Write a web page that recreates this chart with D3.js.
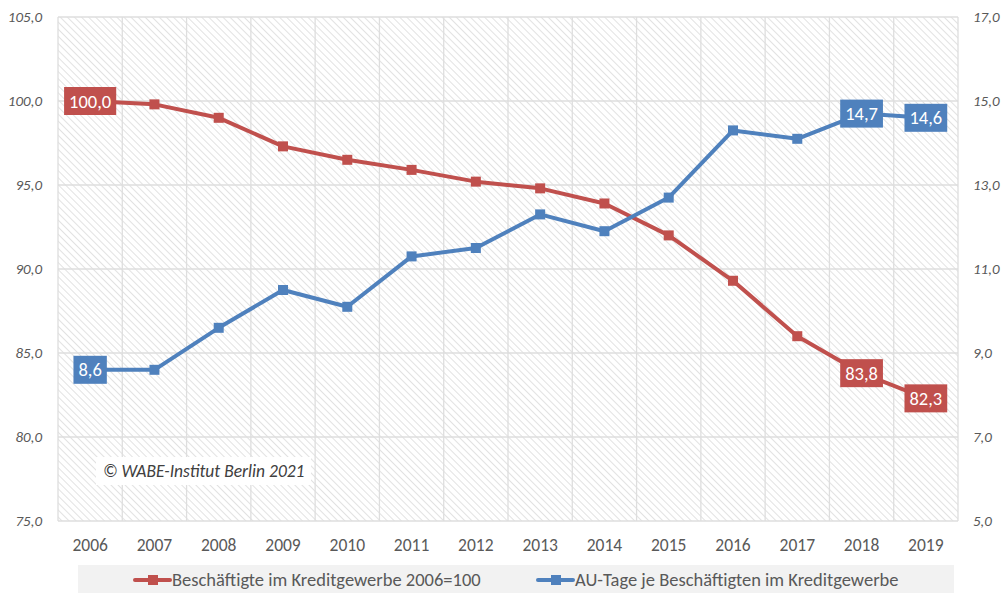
<!DOCTYPE html>
<html>
<head>
<meta charset="utf-8">
<script src="https://cdn.jsdelivr.net/npm/d3@7"></script>
<style>
  body { margin: 0; background: #fff; }
  svg text { font-family: Carlito, Lato, "Open Sans", sans-serif; }
</style>
</head>
<body>
<div id="chart"></div>
<script>
// chart data
var years = ['2006', '2007', '2008', '2009', '2010', '2011', '2012', '2013', '2014', '2015', '2016', '2017', '2018', '2019'];
var employed = [100.0, 99.8, 99.0, 97.3, 96.5, 95.9, 95.2, 94.8, 93.9, 92.0, 89.3, 86.0, 83.8, 82.3];
var sickDays = [8.6, 8.6, 9.6, 10.5, 10.1, 11.3, 11.5, 12.3, 11.9, 12.7, 14.3, 14.1, 14.7, 14.6];
var leftTicks = [75, 80, 85, 90, 95, 100, 105];
var rightTicks = [5, 7, 9, 11, 13, 15, 17];
var labelled = ['2006', '2018', '2019'];
var legendNames = ['Beschäftigte im Kreditgewerbe 2006=100', 'AU-Tage je Beschäftigten im Kreditgewerbe'];

var width = 1003, height = 593;
var margin = {top: 17, right: 45, bottom: 72, left: 58};
var red = '#c0504d', blue = '#4f81bd';
var fmt = function(v) { return v.toFixed(1).replace('.', ','); };

var svg = d3.select('#chart').append('svg').attr('width', width).attr('height', height);

var x = d3.scaleBand().domain(years).range([margin.left, width - margin.right]);
var yL = d3.scaleLinear().domain([75, 105]).range([height - margin.bottom, margin.top]);
var yR = d3.scaleLinear().domain([5, 17]).range([height - margin.bottom, margin.top]);

// hatched plot background
var defs = svg.append('defs');
var pat = defs.append('pattern').attr('id', 'hatch').attr('patternUnits', 'userSpaceOnUse')
  .attr('width', 5).attr('height', 5).attr('patternTransform', 'rotate(-45)');
pat.append('rect').attr('width', 5).attr('height', 5).attr('fill', '#fff');
pat.append('line').attr('x1', 0).attr('y1', 0).attr('x2', 0).attr('y2', 5)
  .attr('stroke', '#d9d9d9').attr('stroke-width', 1.5);

svg.append('rect')
  .attr('x', margin.left).attr('y', margin.top)
  .attr('width', width - margin.left - margin.right)
  .attr('height', height - margin.top - margin.bottom)
  .attr('fill', 'url(#hatch)');

// grid
var grid = svg.append('g').attr('stroke', '#dedede').attr('stroke-width', 1.3);
grid.selectAll('.h').data(leftTicks).enter().append('line')
  .attr('x1', margin.left).attr('x2', width - margin.right)
  .attr('y1', function(d) { return yL(d); }).attr('y2', function(d) { return yL(d); });
grid.selectAll('.v').data(years).enter().append('line')
  .attr('x1', function(d) { return x(d); }).attr('x2', function(d) { return x(d); })
  .attr('y1', margin.top).attr('y2', height - margin.bottom);
grid.append('line')
  .attr('x1', width - margin.right).attr('x2', width - margin.right)
  .attr('y1', margin.top).attr('y2', height - margin.bottom);

// axes
var axL = svg.append('g').attr('transform', 'translate(' + (margin.left - 13) + ',0)')
  .call(d3.axisLeft(yL).tickValues(leftTicks).tickFormat(fmt).tickSize(0));
var axR = svg.append('g').attr('transform', 'translate(' + (width - margin.right + 12) + ',0)')
  .call(d3.axisRight(yR).tickValues(rightTicks).tickFormat(fmt).tickSize(0));
var axB = svg.append('g').attr('transform', 'translate(0,' + (height - margin.bottom + 11) + ')')
  .call(d3.axisBottom(x).tickSize(0));
[axL, axR, axB].forEach(function(a) { a.select('.domain').remove(); });
axL.selectAll('text').attr('font-size', 15).attr('font-style', 'italic').attr('fill', '#595959');
axR.selectAll('text').attr('font-size', 15).attr('font-style', 'italic').attr('fill', '#595959');
axB.selectAll('text').attr('font-size', 17.5).attr('fill', '#595959').attr('dy', '0.9em');

// copyright
svg.append('rect').attr('x', 96).attr('y', 457).attr('width', 215).attr('height', 28).attr('fill', '#fff');
svg.append('text').attr('x', 103).attr('y', 477).attr('font-size', 17.5).attr('font-style', 'italic')
  .attr('fill', '#404040').text('© WABE-Institut Berlin 2021');

// series
var cx = function(d, i) { return x(years[i]) + x.bandwidth() / 2; };
function drawSeries(values, scale, color) {
  var g = svg.append('g');
  g.append('path').datum(values)
    .attr('fill', 'none').attr('stroke', color).attr('stroke-width', 4).attr('stroke-linejoin', 'round')
    .attr('d', d3.line().x(cx).y(function(d) { return scale(d); }));
  g.selectAll('rect').data(values).enter().append('rect')
    .attr('x', function(d, i) { return cx(d, i) - 5; })
    .attr('y', function(d) { return scale(d) - 5; })
    .attr('width', 10).attr('height', 10).attr('fill', color);
  return g;
}
drawSeries(employed, yL, red);
drawSeries(sickDays, yR, blue);

// data labels
function drawLabels(values, scale, color) {
  var g = svg.append('g');
  values.forEach(function(v, i) {
    if (labelled.indexOf(years[i]) < 0) return;
    var lx = cx(v, i), ly = scale(v);
    var t = g.append('text').attr('x', lx).attr('y', ly).attr('text-anchor', 'middle')
      .attr('dy', '0.36em').attr('font-size', 18.5).attr('fill', '#fff').text(fmt(v));
    var bb = t.node().getBBox();
    g.insert('rect', 'text').attr('x', bb.x - 5).attr('y', ly - 14)
      .attr('width', bb.width + 10).attr('height', 28).attr('fill', color);
  });
}
drawLabels(employed, yL, red);
drawLabels(sickDays, yR, blue);

// legend
var lg = svg.append('g');
lg.append('rect').attr('x', 78).attr('y', 565).attr('width', 876).attr('height', 28).attr('fill', '#f2f2f2');
var legendItems = [{name: legendNames[0], color: red, x: 135}, {name: legendNames[1], color: blue, x: 538}];
legendItems.forEach(function(it) {
  var ly = 580;
  lg.append('line').attr('x1', it.x).attr('x2', it.x + 35).attr('y1', ly).attr('y2', ly)
    .attr('stroke', it.color).attr('stroke-width', 4).attr('stroke-linecap', 'round');
  lg.append('rect').attr('x', it.x + 13).attr('y', ly - 5).attr('width', 10).attr('height', 10).attr('fill', it.color);
  lg.append('text').attr('x', it.x + 37).attr('y', ly).attr('dy', '0.35em')
    .attr('font-size', 18.5).attr('fill', '#595959').text(it.name);
});
</script>
</body>
</html>
